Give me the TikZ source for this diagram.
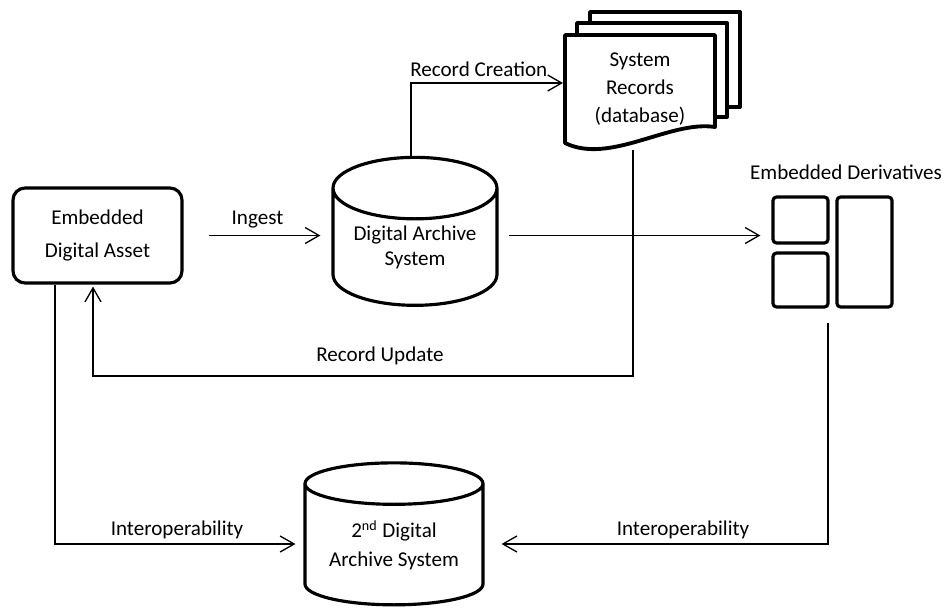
\documentclass[tikz,border=0pt]{standalone}
\usepackage{fontspec}
\setmainfont{Carlito}
\usetikzlibrary{arrows.meta,shapes.geometric}
\tikzset{
	flow/.style={line width=0.75pt, -{Straight Barb[length=0.28cm,width=0.32cm,line width=0.75pt]}},
	heavy/.style={line width=1.8pt},
	archive/.style={heavy, draw, cylinder, shape border rotate=90, align=center, inner sep=0pt},
	sheet/.style={line width=2.2pt, fill=white, line join=round},
	deriv/.style={heavy, draw, rounded corners=2pt, inner sep=0pt, minimum width=1.1cm},
	lbl/.style={inner sep=1pt},
}
\begin{document}
\begin{tikzpicture}[x=0.02cm, y=-0.02cm, font=\fontsize{12}{14.5}\selectfont]
	\useasboundingbox (0,0) rectangle (946,608);
	\node[heavy, draw, rounded corners=0.24cm, minimum width=3.38cm, minimum height=1.9cm, align=center] (asset) at (97.5,235.5) {Embedded\\[4pt]Digital Asset};
	\node[archive, minimum width=3.28cm, minimum height=2.96cm, aspect=0.5] (das) at (415,247.5) {Digital Archive\\[-0.5pt]System};
	\node[archive, minimum width=3.56cm, minimum height=2.84cm, aspect=0.32] (das2) at (394,545) {2\textsuperscript{nd} Digital\\[1.5pt]Archive System};
	\draw[sheet] (590,12) rectangle (740,107);
	\draw[sheet] (577,23) rectangle (727,117);
	\draw[sheet] (565,35) -- (715,35) -- (715,127) .. controls (670,120) and (610,165) .. (565,143) -- cycle;
	\node[align=center] (records) at (640,89) {System\\[1.5pt]Records\\[1.5pt](database)};
	\coordinate (recin) at (565,83);
	\coordinate (recout) at (633,150);
	\node[deriv, minimum height=0.92cm] (dtop) at (800.5,220) {};
	\node[deriv, minimum height=1.08cm] (dbot) at (800.5,280) {};
	\node[deriv, minimum height=2.2cm] (dtall) at (864.5,252) {};
	\node[lbl] (derivlbl) at (846,172) {Embedded Derivatives};
	\coordinate (derivout) at (828,323);
	\draw[flow, shorten <=0.5cm, shorten >=0.22cm] (asset.east) -- (asset.east -| das.west) node[lbl, midway, above=3pt] (ingest) {Ingest};
	\draw[flow, shorten <=0.2cm, shorten >=0.22cm] (asset.east -| das.east) -- (asset.east -| dtop.west);
	\draw[flow, shorten >=0.04cm] ([xshift=-0.08cm]das.north) |- (recin) node[lbl, pos=0.72, above=2pt] (creation) {Record Creation};
	\draw[flow, shorten >=0.04cm] (recout) -- ++(0,226) -| ([xshift=-0.09cm]asset.south);
	\node[lbl] (update) at (380,356) {Record Update};
	\draw[flow, shorten >=0.16cm] ([xshift=-0.85cm]asset.south) |- ([yshift=0.02cm]das2.west);
	\node[lbl] (interleft) at (177,530) {Interoperability};
	\draw[flow, shorten >=0.34cm] (derivout) |- ([yshift=0.02cm]das2.east);
	\node[lbl] (interright) at (683,530) {Interoperability};
\end{tikzpicture}
\end{document}
